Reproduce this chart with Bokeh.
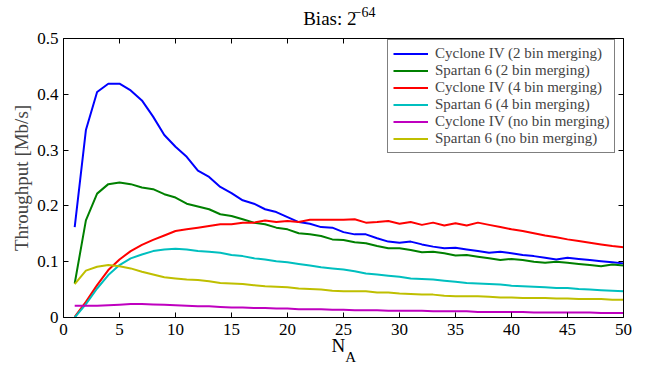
import numpy as np
from bokeh.plotting import figure
from bokeh.models import (Range1d, LinearAxis, FixedTicker, Label, Legend, LegendItem)
from bokeh.embed import file_html
from bokeh.resources import INLINE

# ---- data ----
n_a = list(range(1, 51))

cyclone_2bin = [0.162, 0.336, 0.404, 0.419, 0.419, 0.407, 0.389, 0.360, 0.327, 0.306,
                0.288, 0.263, 0.252, 0.234, 0.223, 0.210, 0.204, 0.194, 0.189, 0.180,
                0.171, 0.168, 0.162, 0.161, 0.153, 0.149, 0.149, 0.142, 0.136, 0.134,
                0.136, 0.131, 0.127, 0.124, 0.125, 0.122, 0.119, 0.116, 0.118, 0.115,
                0.112, 0.110, 0.107, 0.104, 0.107, 0.105, 0.103, 0.101, 0.099, 0.097]
spartan_2bin = [0.061, 0.174, 0.222, 0.239, 0.242, 0.239, 0.233, 0.230, 0.221, 0.215,
                0.204, 0.199, 0.194, 0.185, 0.182, 0.176, 0.170, 0.167, 0.161, 0.158,
                0.151, 0.149, 0.146, 0.140, 0.139, 0.135, 0.133, 0.128, 0.124, 0.124,
                0.121, 0.117, 0.118, 0.115, 0.111, 0.112, 0.109, 0.106, 0.103, 0.105,
                0.103, 0.100, 0.098, 0.100, 0.098, 0.096, 0.094, 0.092, 0.095, 0.093]
cyclone_4bin = [0.001, 0.028, 0.058, 0.085, 0.104, 0.119, 0.130, 0.139, 0.147, 0.155,
                0.158, 0.161, 0.164, 0.167, 0.167, 0.170, 0.170, 0.174, 0.171, 0.173,
                0.171, 0.175, 0.175, 0.175, 0.175, 0.176, 0.170, 0.171, 0.173, 0.168,
                0.171, 0.166, 0.170, 0.165, 0.169, 0.165, 0.170, 0.166, 0.162, 0.158,
                0.155, 0.151, 0.147, 0.144, 0.140, 0.137, 0.134, 0.131, 0.128, 0.126]
spartan_4bin = [0.000, 0.024, 0.052, 0.076, 0.094, 0.106, 0.113, 0.119, 0.122, 0.123,
                0.122, 0.119, 0.118, 0.116, 0.112, 0.110, 0.106, 0.104, 0.101, 0.099,
                0.096, 0.093, 0.090, 0.088, 0.086, 0.083, 0.079, 0.077, 0.075, 0.073,
                0.070, 0.069, 0.068, 0.066, 0.064, 0.062, 0.061, 0.060, 0.059, 0.057,
                0.056, 0.055, 0.054, 0.053, 0.053, 0.051, 0.050, 0.049, 0.048, 0.047]
cyclone_nobin = [0.021, 0.021, 0.021, 0.022, 0.023, 0.024, 0.024, 0.0235, 0.023, 0.022,
                 0.021, 0.020, 0.020, 0.019, 0.018, 0.018, 0.017, 0.017, 0.016, 0.016,
                 0.015, 0.015, 0.015, 0.014, 0.014, 0.013, 0.013, 0.013, 0.012, 0.012,
                 0.012, 0.012, 0.011, 0.011, 0.011, 0.011, 0.010, 0.010, 0.010, 0.010,
                 0.010, 0.009, 0.009, 0.009, 0.009, 0.009, 0.009, 0.008, 0.008, 0.008]
spartan_nobin = [0.060, 0.084, 0.091, 0.094, 0.092, 0.088, 0.082, 0.077, 0.072, 0.070,
                 0.068, 0.067, 0.065, 0.062, 0.061, 0.060, 0.058, 0.056, 0.055, 0.054,
                 0.052, 0.051, 0.050, 0.048, 0.047, 0.047, 0.047, 0.045, 0.045, 0.043,
                 0.042, 0.041, 0.041, 0.039, 0.038, 0.038, 0.038, 0.037, 0.036, 0.036,
                 0.035, 0.035, 0.035, 0.034, 0.034, 0.033, 0.033, 0.033, 0.032, 0.032]

series_labels = ["Cyclone IV (2 bin merging)", "Spartan 6 (2 bin merging)",
                 "Cyclone IV (4 bin merging)", "Spartan 6 (4 bin merging)",
                 "Cyclone IV (no bin merging)", "Spartan 6 (no bin merging)"]
series_values = [cyclone_2bin, spartan_2bin, cyclone_4bin, spartan_4bin,
                 cyclone_nobin, spartan_nobin]
series_colors = ["#0000ff", "#008000", "#ff0000", "#00bfbf", "#bf00bf", "#bfbf00"]

x_ticks = [0, 5, 10, 15, 20, 25, 30, 35, 40, 45, 50]
y_ticks = [0, 0.1, 0.2, 0.3, 0.4, 0.5]
y_tick_labels = {0: "0", 0.1: "0.1", 0.2: "0.2", 0.3: "0.3", 0.4: "0.4", 0.5: "0.5"}

FONT = "Liberation Serif"

p = figure(width=650, height=366, output_backend="svg", toolbar_location=None,
           x_range=Range1d(0, 50), y_range=Range1d(0, 0.5),
           min_border_left=63, min_border_right=27, min_border_top=38, min_border_bottom=49)
p.outline_line_color = None
p.xgrid.visible = False
p.ygrid.visible = False
p.background_fill_color = "white"
p.border_fill_color = "white"

items = []
for lab, vals, col in zip(series_labels, series_values, series_colors):
    r = p.line(n_a, vals, line_color=col, line_width=2)
    items.append(LegendItem(label=lab, renderers=[r]))

def style_axis(ax, ticks, show_labels, standoff):
    ax.ticker = FixedTicker(ticks=ticks)
    ax.axis_line_color = "black"
    ax.axis_line_width = 1
    ax.major_tick_in = 5
    ax.major_tick_out = 0
    ax.major_tick_line_color = "black"
    ax.minor_tick_line_color = None
    ax.major_label_text_font = FONT
    ax.major_label_text_font_size = "17px"
    ax.major_label_text_color = "black"
    ax.major_label_standoff = standoff
    if not show_labels:
        ax.major_label_overrides = {t: "" for t in ticks}

xb = p.xaxis[0]
yl = p.yaxis[0]
style_axis(xb, x_ticks, True, 6)
style_axis(yl, y_ticks, True, 5)
yl.major_label_overrides = y_tick_labels
yl.axis_label = "Throughput [Mb/s]"
yl.axis_label_text_font = FONT
yl.axis_label_text_font_size = "19px"
yl.axis_label_text_font_style = "normal"
yl.axis_label_standoff = 2

xt = LinearAxis()
yr = LinearAxis()
p.add_layout(xt, "above")
p.add_layout(yr, "right")
style_axis(xt, x_ticks, False, 0)
style_axis(yr, y_ticks, False, 0)

legend = Legend(items=items, location=(324, 164))
legend.label_text_font = FONT
legend.label_text_font_size = "15px"
legend.label_height = 17
legend.glyph_height = 17
legend.glyph_width = 35
legend.label_standoff = 7
legend.label_width = 173
legend.spacing = 0
legend.padding = 5
legend.margin = 0
legend.border_line_color = "black"
legend.border_line_width = 1
legend.background_fill_color = "white"
legend.background_fill_alpha = 1
p.add_layout(legend, "center")

def lab(text, x, y, size, side):
    p.add_layout(Label(x=x, y=y, x_units="screen", y_units="screen", text=text,
                       text_font=FONT, text_font_size=size, text_color="black",
                       text_baseline="alphabetic"), side)

lab("Bias: 2", 239.7, 20, "19px", "above")
lab("\u221264", 290, 5.5, "14px", "above")
lab("N", 268, 13, "19px", "below")
lab("A", -278.3, -39, "15px", "right")

open("out.html", "w").write(file_html(p, INLINE))
